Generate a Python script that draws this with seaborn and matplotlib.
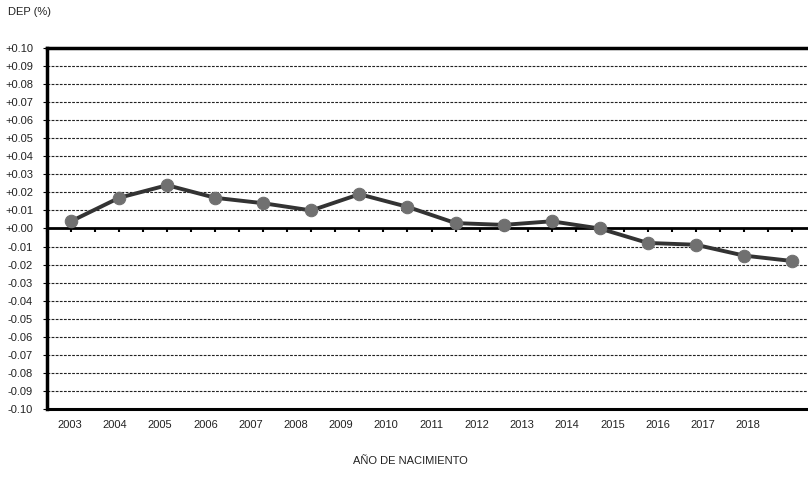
import matplotlib
matplotlib.use("Agg")
import matplotlib.pyplot as plt
import seaborn as sns
import numpy as np
import pandas as pd

years = [2003, 2004, 2005, 2006, 2007, 2008, 2009, 2010, 2011, 2012,
         2013, 2014, 2015, 2016, 2017, 2018]
dep = [0.004, 0.017, 0.024, 0.017, 0.014, 0.010, 0.019, 0.012, 0.003, 0.002,
       0.004, 0.000, -0.008, -0.009, -0.015, -0.018]
yticks = [round(-0.10 + 0.01 * i, 2) for i in range(21)]

sns.set_theme(style="white")
plt.rcParams['font.family'] = ['Liberation Sans', 'DejaVu Sans']

df = pd.DataFrame({"idx": np.arange(len(years)), "dep": dep})

fig = plt.figure(figsize=(8.08, 4.86), dpi=100)
ax = fig.add_axes([47 / 808, 1 - 409 / 486, 769 / 808, 361 / 486])

# dashed grid
for v in yticks:
    if abs(v) > 1e-9 and abs(abs(v) - 0.10) > 1e-9:
        ax.axhline(v, color="#222222", lw=0.8, ls=(0, (2.5, 1.2)), zorder=1)

sns.lineplot(data=df, x="idx", y="dep", ax=ax, color="#333333", lw=2.8,
             marker="o", markersize=9, markerfacecolor="#707070",
             markeredgecolor="#707070", zorder=3)

ax.set_xlim(-0.5, len(years) - 0.5)
ax.set_ylim(-0.10, 0.10)
ax.set_yticks(yticks)
ax.set_yticklabels([f"{v:+.2f}" for v in yticks], fontsize=8, color="#222222")
ax.tick_params(axis="y", direction="out", length=3, width=0.8, pad=7, colors="black",
               labelcolor="#222222", left=True)

# zero-line axis with small ticks
ax.spines['bottom'].set_position(('data', 0))
ax.spines['bottom'].set_linewidth(2)
ax.spines['bottom'].set_color("black")
ax.set_xticks(np.arange(-0.5, len(years), 0.5))
ax.tick_params(axis="x", direction="out", length=3, width=1.5, labelbottom=False, bottom=True, colors="black")
ax.axhline(-0.10, color="black", lw=2.2, zorder=4, clip_on=False)
for s in ["left", "top", "right"]:
    ax.spines[s].set_linewidth(2.5)
    ax.spines[s].set_color("black")
ax.set_xlabel("")
ax.set_ylabel("")

# category labels axis (Excel-style offset)
ax2 = ax.twiny()
ax2.set_xlim(-0.5, len(years) + 0.5)
ax2.xaxis.set_ticks_position("bottom")
ax2.xaxis.set_label_position("bottom")
for s in ax2.spines.values():
    s.set_visible(False)
ax2.set_xticks(np.arange(len(years)))
ax2.set_xticklabels([str(y) for y in years], fontsize=8, color="#222222")
ax2.tick_params(axis="x", length=0, pad=8, colors="#222222", top=False)

fig.text(8 / 808, 1 - 12 / 486, "DEP (%)", fontsize=8, va="center", ha="left", color="#222222")
fig.text(410 / 808, 1 - 461 / 486, "AÑO DE NACIMIENTO", fontsize=8, va="center", ha="center",
         color="#222222")

fig.savefig("out.png", dpi=100)
